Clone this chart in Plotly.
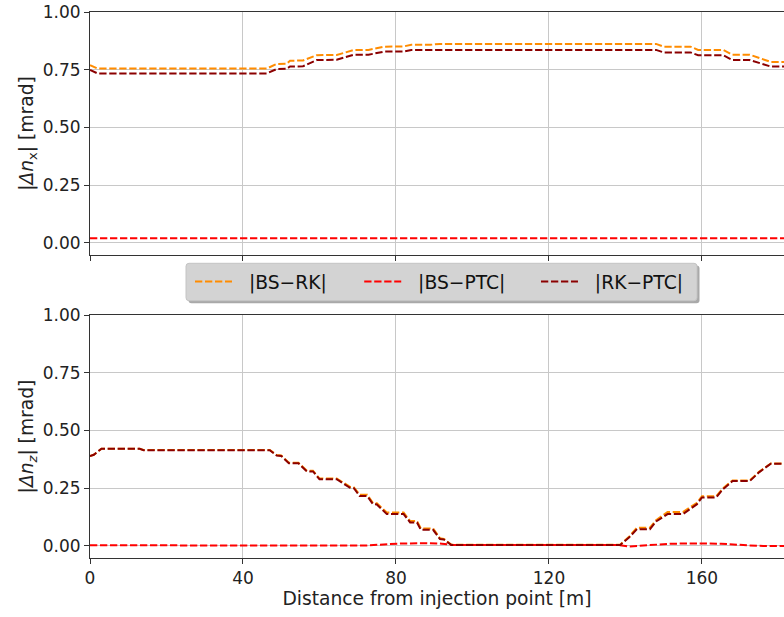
import plotly.graph_objects as go

# ---------------- data ----------------
# Top panel: |Δn_x|
top_rk_x = [0, 2, 46.2, 48.8, 51.4, 52.3, 55.7, 59.3, 64.5, 68.9, 72.8, 77.0, 82.0,
            84.0, 89.0, 91.5, 148.0, 150.0, 157.0, 159.0, 165.5, 168.0, 172.5, 178.0, 181.5]
top_bs_rk = [0.770, 0.755, 0.755, 0.775, 0.776, 0.789, 0.790, 0.813, 0.814, 0.835, 0.836, 0.850, 0.851,
             0.858, 0.858, 0.862, 0.862, 0.850, 0.850, 0.836, 0.836, 0.815, 0.815, 0.784, 0.784]
top_rk_ptc = [0.749, 0.734, 0.734, 0.753, 0.754, 0.764, 0.765, 0.792, 0.793, 0.815, 0.815, 0.829, 0.829,
              0.835, 0.835, 0.836, 0.836, 0.825, 0.825, 0.813, 0.813, 0.792, 0.792, 0.764, 0.764]
top_ptc_x = [0, 40, 80, 120, 160, 181.5]
top_bs_ptc = [0.020, 0.020, 0.021, 0.021, 0.020, 0.020]

# Bottom panel: |Δn_z|
bot_x = [0, 1.0, 3.0, 13.0, 14.0, 47.0, 48.8, 50.0, 52.0, 54.5, 56.7, 58.3, 60.0, 64.5,
         68.0, 69.0, 70.5, 72.5, 74.0, 75.0, 77.6, 82.0, 83.7, 85.5, 86.5, 89.7, 91.5,
         92.5, 94.5, 138.6, 141.0, 143.0, 146.4, 148.0, 151.0, 155.0, 158.7, 160.0,
         163.7, 165.5, 168.0, 172.5, 175.0, 178.0, 181.5]
bot_rk_ptc = [0.389, 0.395, 0.421, 0.421, 0.415, 0.415, 0.392, 0.390, 0.358, 0.358, 0.323, 0.323,
              0.289, 0.289, 0.252, 0.250, 0.216, 0.216, 0.181, 0.180, 0.138, 0.138, 0.102, 0.102,
              0.070, 0.070, 0.030, 0.028, 0.004, 0.004, 0.038, 0.073, 0.073, 0.106, 0.138,
              0.138, 0.181, 0.210, 0.210, 0.246, 0.281, 0.281, 0.320, 0.356, 0.356]
bot_bs_rk = [0.389, 0.395, 0.421, 0.421, 0.416, 0.416, 0.394, 0.392, 0.360, 0.360, 0.326, 0.326,
             0.292, 0.292, 0.256, 0.254, 0.222, 0.222, 0.186, 0.185, 0.145, 0.145, 0.108, 0.108,
             0.076, 0.076, 0.034, 0.031, 0.005, 0.005, 0.041, 0.079, 0.079, 0.112, 0.147,
             0.147, 0.187, 0.215, 0.215, 0.250, 0.284, 0.284, 0.322, 0.357, 0.357]
bot_ptc_x = [0, 20, 40, 50, 60, 66, 72, 78, 82, 88, 92, 95, 120, 138, 141, 146, 152,
             160, 165, 172, 176, 181.5]
bot_bs_ptc = [0.003, 0.003, 0.003, 0.002, 0.004, 0.001, 0.002, 0.008, 0.011, 0.012, 0.010, 0.004,
              0.004, 0.004, -0.002, 0.004, 0.010, 0.011, 0.010, 0.003, 0.000, 0.000]

labels = ["|BS\u2212RK|", "|BS\u2212PTC|", "|RK\u2212PTC|"]
colors = ["#ff8c00", "#ff0000", "#8b0000"]
x_ticks = [0, 40, 80, 120, 160]
y_ticks = [0.0, 0.25, 0.50, 0.75, 1.00]
y_ticktext = ["0.00", "0.25", "0.50", "0.75", "1.00"]

# ---------------- geometry helpers (pixels -> paper) ----------------
W, H = 784, 617
ML, MR, MT, MB = 90, 0, 12, 59
PW, PH = W - ML - MR, H - MT - MB


def px(xp):
    return (xp - ML) / PW


def py(yp):
    return (H - MB - yp) / PH


def rounded_rect(x0, y0, x1, y1, r=3):
    # pixel coords -> paper path with rounded corners
    pts = [
        f"M{px(x0 + r)},{py(y0)}", f"L{px(x1 - r)},{py(y0)}",
        f"Q{px(x1)},{py(y0)} {px(x1)},{py(y0 + r)}", f"L{px(x1)},{py(y1 - r)}",
        f"Q{px(x1)},{py(y1)} {px(x1 - r)},{py(y1)}", f"L{px(x0 + r)},{py(y1)}",
        f"Q{px(x0)},{py(y1)} {px(x0)},{py(y1 - r)}", f"L{px(x0)},{py(y0 + r)}",
        f"Q{px(x0)},{py(y0)} {px(x0 + r)},{py(y0)}", "Z",
    ]
    return " ".join(pts)


# ---------------- figure ----------------
FONT = "DejaVu Sans"
DASH = "7.3px,2.7px"
LW = 2.0
NB = "\u00a0"
pads = [NB * 4 + "\u2009", NB * 4 + "\u200a", ""]

fig = go.Figure()
series_top = [(top_rk_x, top_bs_rk), (top_ptc_x, top_bs_ptc), (top_rk_x, top_rk_ptc)]
series_bot = [(bot_x, bot_bs_rk), (bot_ptc_x, bot_bs_ptc), (bot_x, bot_rk_ptc)]
for i, (xs, ys) in enumerate(series_top):
    name = NB * 2 + labels[i] + pads[i]
    fig.add_trace(go.Scatter(x=xs, y=ys, mode="lines", name=name,
                             line=dict(color=colors[i], width=LW, dash=DASH),
                             xaxis="x", yaxis="y", showlegend=True, legendgroup=str(i)))
for i, (xs, ys) in enumerate(series_bot):
    fig.add_trace(go.Scatter(x=xs, y=ys, mode="lines", name=labels[i],
                             line=dict(color=colors[i], width=LW, dash=DASH),
                             xaxis="x2", yaxis="y2", showlegend=False, legendgroup=str(i)))

axis_common = dict(showline=True, mirror=True, linecolor="#333333", linewidth=1,
                   showgrid=True, gridcolor="#c8c8c8", gridwidth=1, zeroline=False,
                   ticks="outside", ticklen=5, tickcolor="#333333", tickwidth=1,
                   automargin=False,
                   tickfont=dict(family=FONT, size=17, color="#222222"))
TFS = 18.7

fig.update_layout(
    width=W, height=H,
    margin=dict(l=ML, r=MR, t=MT, b=MB, autoexpand=False),
    paper_bgcolor="white", plot_bgcolor="white",
    font=dict(family=FONT, size=17, color="#222222"),
    xaxis=dict(domain=[0, 1], range=[0, 181.45], tickvals=x_ticks, showticklabels=False,
               anchor="y", **axis_common),
    yaxis=dict(domain=[py(255), 1.0], range=[-0.052, 1.0], tickvals=y_ticks, ticktext=y_ticktext,
               anchor="x",
               title=dict(text="|<i>\u0394n</i><sub>x</sub>| [mrad]", standoff=4,
                          font=dict(family=FONT, size=TFS)),
               **axis_common),
    xaxis2=dict(domain=[0, 1], range=[0, 181.45], tickvals=x_ticks, anchor="y2",
                title=dict(text="Distance from injection point [m]", standoff=4,
                           font=dict(family=FONT, size=TFS)),
                **axis_common),
    yaxis2=dict(domain=[0, py(315)], range=[-0.052, 1.0], tickvals=y_ticks, ticktext=y_ticktext,
                anchor="x2",
                title=dict(text="|<i>\u0394n<sub>z</sub></i>| [mrad]", standoff=4,
                           font=dict(family=FONT, size=TFS)),
                **axis_common),
    legend=dict(orientation="h", x=px(190), xanchor="left", y=py(281.8), yanchor="middle",
                bgcolor="rgba(0,0,0,0)", borderwidth=0,
                font=dict(family=FONT, size=TFS, color="#111111"),
                itemwidth=37, tracegroupgap=0),
    showlegend=True,
    shapes=[
        # legend shadow
        dict(type="path", xref="paper", yref="paper",
             path=rounded_rect(188.5, 265.5, 699.5, 303.2),
             fillcolor="#a9a9a9", line=dict(width=0), layer="above"),
        # legend frame
        dict(type="path", xref="paper", yref="paper",
             path=rounded_rect(186, 263.3, 697, 300.7),
             fillcolor="#d3d3d3", line=dict(color="#c4c4c4", width=1), layer="above"),
    ],
)

fig.write_html("out.html",
               config={"displayModeBar": False},
               post_script="document.body.style.margin='0';document.body.style.padding='0';")
